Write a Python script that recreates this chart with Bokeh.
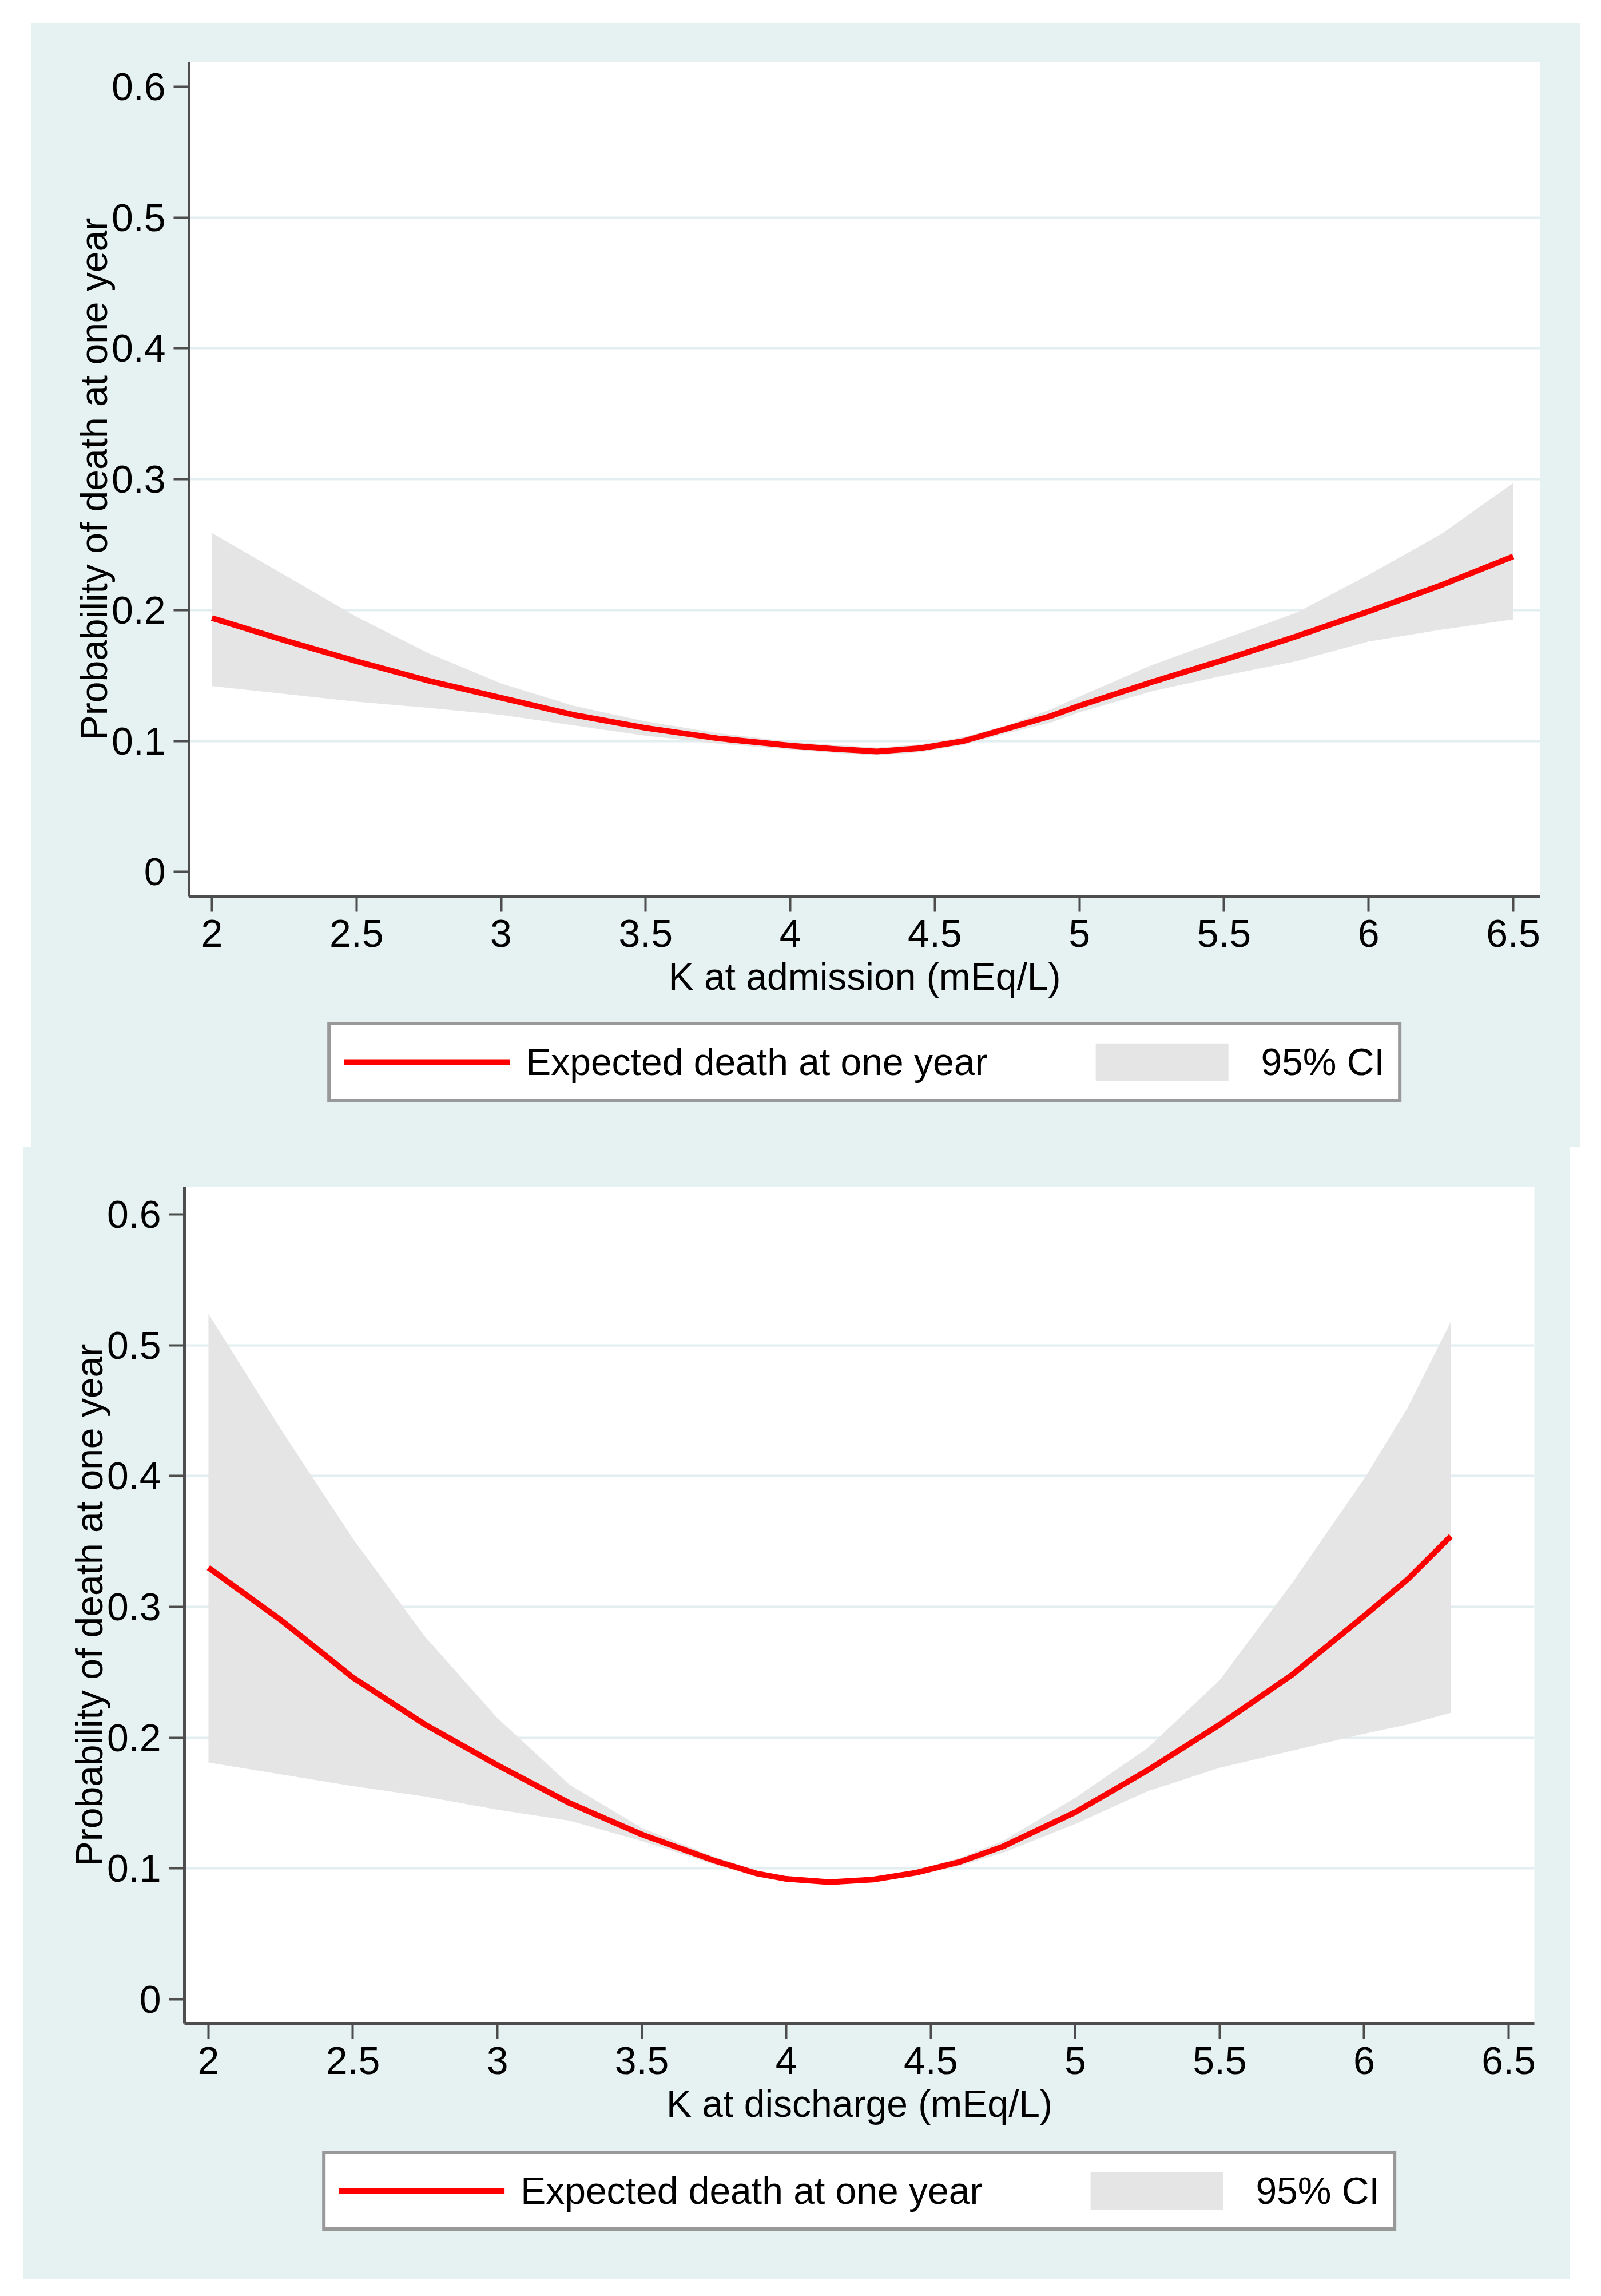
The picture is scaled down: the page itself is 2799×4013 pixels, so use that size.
from bokeh.plotting import figure
from bokeh.models import (Range1d, FixedTicker, Legend, LegendItem, Spacer, ColumnDataSource)
from bokeh.layouts import column, row
from bokeh.embed import file_html
from bokeh.resources import INLINE

# ---- data ----
k_adm = [2.0, 2.25, 2.5, 2.75, 3.0, 3.25, 3.5, 3.75, 4.0, 4.15, 4.3, 4.45, 4.6, 4.75, 4.9, 5.0,
         5.25, 5.5, 5.75, 6.0, 6.25, 6.5]
fit_adm = [0.194, 0.177, 0.161, 0.146, 0.133, 0.120, 0.110, 0.102, 0.0965, 0.094, 0.092, 0.0945, 0.100,
           0.1095, 0.119, 0.127, 0.145, 0.162, 0.180, 0.199, 0.219, 0.241]
hi_adm = [0.259, 0.227, 0.195, 0.167, 0.144, 0.127, 0.115, 0.106, 0.0995, 0.097, 0.095, 0.0975, 0.103,
          0.112, 0.124, 0.134, 0.158, 0.178, 0.198, 0.227, 0.258, 0.297]
lo_adm = [0.142, 0.136, 0.130, 0.1253, 0.120, 0.112, 0.104, 0.098, 0.0935, 0.091, 0.089, 0.0915, 0.097,
          0.106, 0.114, 0.122, 0.138, 0.150, 0.161, 0.176, 0.185, 0.193]

k_dis = [2.0, 2.25, 2.5, 2.75, 3.0, 3.25, 3.5, 3.75, 3.9, 4.0, 4.15, 4.3, 4.45, 4.6, 4.75, 5.0,
         5.25, 5.5, 5.75, 6.0, 6.15, 6.3]
fit_dis = [0.330, 0.290, 0.246, 0.210, 0.179, 0.150, 0.126, 0.106, 0.096, 0.092, 0.0895, 0.0915, 0.0968,
           0.105, 0.1168, 0.143, 0.175, 0.210, 0.248, 0.293, 0.321, 0.354]
hi_dis = [0.524, 0.436, 0.352, 0.277, 0.215, 0.164, 0.131, 0.109, 0.098, 0.094, 0.0915, 0.0935, 0.099,
          0.108, 0.121, 0.154, 0.192, 0.244, 0.318, 0.398, 0.452, 0.518]
lo_dis = [0.181, 0.172, 0.163, 0.155, 0.145, 0.1365, 0.121, 0.103, 0.094, 0.090, 0.0875, 0.0895, 0.0945,
          0.102, 0.112, 0.134, 0.159, 0.177, 0.190, 0.203, 0.210, 0.219]

x_ticks = [2, 2.5, 3, 3.5, 4, 4.5, 5, 5.5, 6, 6.5]
x_tick_labels = ["2", "2.5", "3", "3.5", "4", "4.5", "5", "5.5", "6", "6.5"]
y_ticks = [0, 0.1, 0.2, 0.3, 0.4, 0.5, 0.6]
y_tick_labels = ["0", "0.1", "0.2", "0.3", "0.4", "0.5", "0.6"]
grid_ticks = [0.1, 0.2, 0.3, 0.4, 0.5]

y_title = "Probability of death at one year"
x_title_adm = "K at admission (mEq/L)"
x_title_dis = "K at discharge (mEq/L)"
label_fit = "Expected death at one year"
label_ci = "95% CI"

PANEL_BG = "#e6f1f1"
FONT = "Liberation Sans"
AXIS_COL = "#4d4d4d"
RED = "#ff0000"
CI_COL = "#e5e5e5"


def make_main(src, xtitle, width, height, xr, yr, borders):
    bl, br, bt, bb = borders
    p = figure(width=width, height=height, output_backend="svg", toolbar_location=None,
               x_range=Range1d(*xr), y_range=Range1d(*yr),
               min_border_left=bl, min_border_right=br, min_border_top=bt, min_border_bottom=bb)
    p.background_fill_color = "white"
    p.border_fill_color = PANEL_BG
    p.outline_line_color = None

    p.varea(x="k", y1="lo", y2="hi", source=src, fill_color=CI_COL, fill_alpha=1.0)
    p.line(x="k", y="fit", source=src, line_color=RED, line_width=10, line_join="round")

    p.xaxis.ticker = FixedTicker(ticks=x_ticks)
    p.xaxis.major_label_overrides = {t: l for t, l in zip(x_ticks, x_tick_labels)}
    p.yaxis.ticker = FixedTicker(ticks=y_ticks)
    p.yaxis.major_label_overrides = {t: l for t, l in zip(y_ticks, y_tick_labels)}
    for ax in (p.xaxis[0], p.yaxis[0]):
        ax.axis_line_color = AXIS_COL
        ax.axis_line_width = 5
        ax.major_tick_line_color = AXIS_COL
        ax.major_tick_line_width = 4
        ax.major_tick_out = 27
        ax.major_tick_in = 0
        ax.minor_tick_line_color = None
        ax.major_label_text_font = FONT
        ax.major_label_text_font_size = "68px"
        ax.major_label_text_color = "black"
        ax.axis_label_text_font = FONT
        ax.axis_label_text_font_size = "66px"
        ax.axis_label_text_font_style = "normal"
        ax.axis_label_text_color = "black"
    p.xaxis.axis_label = xtitle
    p.yaxis.axis_label = y_title
    p.xaxis.major_label_standoff = 14
    p.xaxis.axis_label_standoff = 12
    p.yaxis.major_label_standoff = 14
    p.yaxis.axis_label_standoff = -9

    p.xgrid.grid_line_color = None
    p.ygrid.ticker = FixedTicker(ticks=grid_ticks)
    p.ygrid.grid_line_color = "#e2eef0"
    p.ygrid.grid_line_width = 4
    return p


def make_legend(src, width, height, bl, br, top_gap):
    # a strip below the chart that only carries the legend; the data sit outside its (hidden) range
    q = figure(width=width, height=height, output_backend="svg", toolbar_location=None,
               x_range=Range1d(0, 1), y_range=Range1d(10, 11),
               x_axis_location=None, y_axis_location=None,
               min_border_left=bl, min_border_right=br, min_border_top=0, min_border_bottom=0)
    q.background_fill_color = PANEL_BG
    q.border_fill_color = PANEL_BG
    q.outline_line_color = None
    q.grid.visible = False
    r_line = q.line(x="k", y="fit", source=src, line_color=RED, line_width=10)
    r_area = q.varea(x="k", y1="lo", y2="hi", source=src, fill_color=CI_COL, fill_alpha=1.0)
    legend = Legend(items=[LegendItem(label=label_fit, renderers=[r_line]),
                           LegendItem(label=label_ci, renderers=[r_area])],
                    orientation="horizontal", location="top_center")
    legend.glyph_width = 290
    legend.glyph_height = 82
    legend.label_standoff = 28
    legend.spacing = 160
    legend.padding = 23
    legend.margin = top_gap
    legend.label_text_font = FONT
    legend.label_text_font_size = "66px"
    legend.label_text_color = "black"
    legend.border_line_color = "#333333"
    legend.border_line_width = 6
    legend.background_fill_color = "white"
    legend.background_fill_alpha = 1.0
    q.add_layout(legend, "center")
    return q


src1 = ColumnDataSource(dict(k=k_adm, fit=fit_adm, lo=lo_adm, hi=hi_adm))
src2 = ColumnDataSource(dict(k=k_dis, fit=fit_dis, lo=lo_dis, hi=hi_dis))

# top panel: x 54..2762, y 41..2005 ; frame 330..2692 x 108..1566
p1 = make_main(src1, x_title_adm, 2708, 1729,
               (1.921, 6.593), (-0.0186, 0.6188), (276, 70, 67, 204))
l1 = make_legend(src1, 2708, 235, 276, 70, 16)

# bottom panel: x 40..2745, y 2005..3983 ; frame 322..2682 x 2074..3536
p2 = make_main(src2, x_title_dis, 2705, 1735,
               (1.917, 6.589), (-0.0184, 0.621), (282, 63, 69, 204))
l2 = make_legend(src2, 2705, 243, 282, 63, 19)

panel1 = column(p1, l1, styles={"background-color": PANEL_BG})
panel2 = column(p2, l2, styles={"background-color": PANEL_BG})

layout = column(Spacer(height=41),
                row(Spacer(width=54), panel1),
                row(Spacer(width=40), panel2))

open("out.html", "w").write(file_html(layout, INLINE))
